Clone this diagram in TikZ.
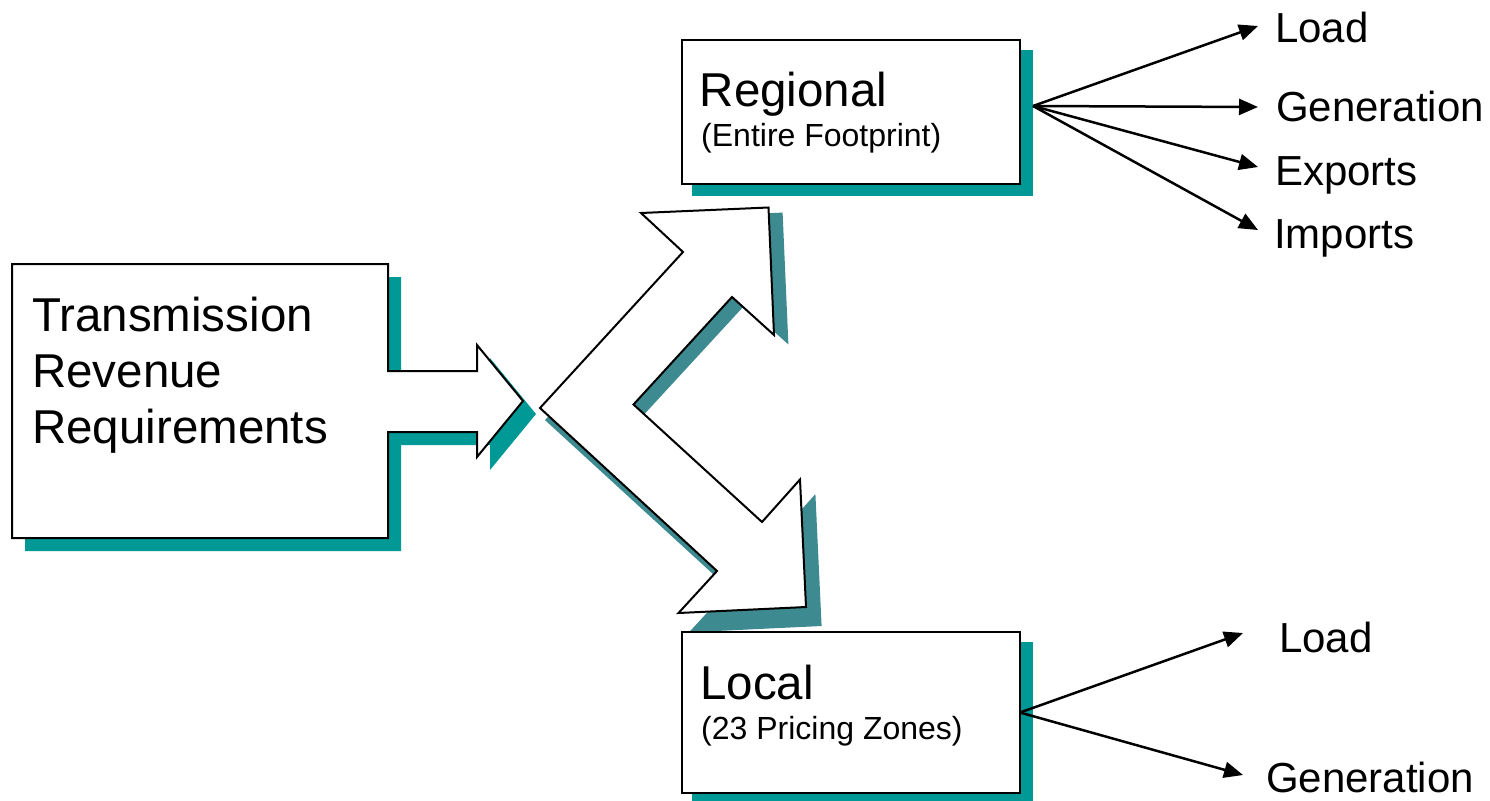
\documentclass[tikz,border=0pt]{standalone}
\usepackage{fontspec}
\setmainfont{Liberation Sans}
\usetikzlibrary{arrows.meta}
\definecolor{boxteal}{RGB}{0,153,150}
\definecolor{arrowteal}{RGB}{61,139,144}
\begin{document}
\begin{tikzpicture}[x=1pt,y=-1pt,
  outline/.style={draw=black, line width=2pt, fill=white, line join=miter},
  boxshadow/.style={fill=boxteal},
  arrowshadow/.style={fill=arrowteal},
  box/.style={outline, rectangle, inner sep=0pt, outer sep=0pt},
  bigtext/.style={font=\fontsize{47.5}{55.8}\selectfont, inner sep=0pt, anchor=base west},
  subtext/.style={font=\fontsize{32}{38}\selectfont, inner sep=0pt, anchor=base west},
  fanlabel/.style={font=\fontsize{42}{50}\selectfont, inner sep=0pt, anchor=base west},
  fan/.style={line width=2.5pt, -{Triangle[length=19pt,width=16pt]}}
]
\useasboundingbox (0,0) rectangle (1490,800);

% ---- left block: box with a right-pointing arrow (callout) ----
\fill[boxshadow, shift={(13,13)}]
  (12,264) -- (388,264) -- (388,371) -- (477,371) -- (477,345) -- (523,401)
  -- (477,457) -- (477,432) -- (388,432) -- (388,538) -- (12,538) -- cycle;
\draw[outline]
  (12,264) -- (388,264) -- (388,371) -- (477,371) -- (477,345) -- (523,401)
  -- (477,457) -- (477,432) -- (388,432) -- (388,538) -- (12,538) -- cycle;
% multi-line node: its base anchor sits on the last line
\node[bigtext, align=left] (trr) at (32,443.3)
  {Transmission\\Revenue\\Requirements};

% ---- split arrow: one branch up, one branch down ----
\fill[arrowshadow]
  (545,420.1) -- (693.7,258.6) -- (650.0,218.3) -- (782.6,212.6)
  -- (788.4,344.5) -- (744.7,305.2) -- (642.2,416.5) -- (775.9,538.1)
  -- (815.4,494.1) -- (821.6,626.0) -- (689.0,632.3) -- (729.1,588.8) -- cycle;
\draw[outline]
  (540,408) -- (683,252) -- (641,213) -- (768.5,207.5)
  -- (774,335) -- (732,297) -- (633.5,404.5) -- (762,522)
  -- (800,479.5) -- (806,607) -- (678.5,613) -- (717,571) -- cycle;

% ---- Regional box ----
\node[box, minimum width=338pt, minimum height=144pt] (regbox) at (851,112) {};
\fill[boxshadow] ([shift={(10,10)}]regbox.north west) rectangle ([shift={(12.5,12)}]regbox.south east);
\node[box, minimum width=338pt, minimum height=144pt] at (regbox.center) {};
\node[bigtext] (regtitle) at (699.5,106.7) {Regional};
\node[subtext] (regsub) at (701,146.7) {(Entire Footprint)};

% ---- Local box ----
\node[box, minimum width=338pt, minimum height=161pt] (locbox) at (851,712.5) {};
\fill[boxshadow] ([shift={(10,10)}]locbox.north west) rectangle ([shift={(12.5,12)}]locbox.south east);
\node[box, minimum width=338pt, minimum height=161pt] at (locbox.center) {};
\node[bigtext] (loctitle) at (700,699.3) {Local};
\node[subtext] (locsub) at (701,739.3) {(23 Pricing Zones)};

% ---- Regional fan-out ----
\coordinate (regfan) at (1033,106);
\node[fanlabel] (rload) at (1275,43) {Load};
\node[fanlabel] (rgen) at (1276,121) {Generation};
\node[fanlabel] (rexp) at (1275,185) {Exports};
\node[fanlabel] (rimp) at (1274,248) {Imports};
\coordinate (rloadtip) at (1258,26);
\coordinate (rgentip) at (1258,107);
\coordinate (rexptip) at (1258,167);
\coordinate (rimptip) at (1258,230);
\draw[fan] (regfan) -- (rloadtip);
\draw[fan] (regfan) -- (rgentip);
\draw[fan] (regfan) -- (rexptip);
\draw[fan] (regfan) -- (rimptip);

% ---- Local fan-out ----
\coordinate (locfan) at (locbox.east);
\node[fanlabel] (lload) at (1279,652) {Load};
\node[fanlabel] (lgen) at (1266,792) {Generation};
\coordinate (lloadtip) at (1243,633);
\coordinate (lgentip) at (1243,775);
\draw[fan] (locfan) -- (lloadtip);
\draw[fan] (locfan) -- (lgentip);
\end{tikzpicture}
\end{document}
